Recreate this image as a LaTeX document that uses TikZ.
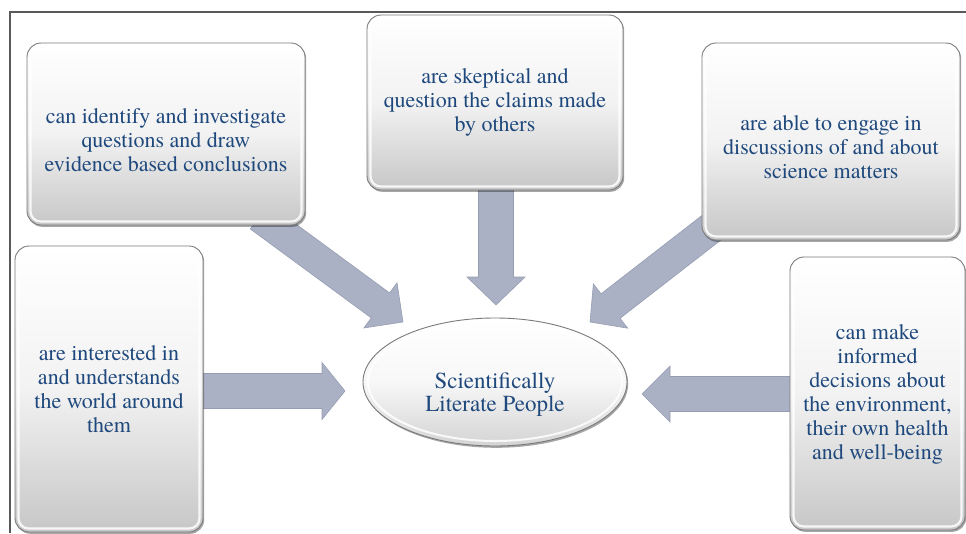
\documentclass[tikz,border=0pt]{standalone}
\usepackage{fontspec}
\newfontfamily\cardfont{texgyretermes-regular.otf}
\usetikzlibrary{calc,shadows,shapes.geometric,backgrounds}
\definecolor{txtblue}{RGB}{31,73,125}
\definecolor{arrfill}{RGB}{170,177,196}
\definecolor{arrline}{RGB}{150,157,178}
\tikzset{
  card/.style={rectangle, rounded corners=14pt, draw=black!52, line width=0.9pt,
    top color=white, bottom color=black!22, middle color=black!5,
    drop shadow={shadow xshift=1.2pt, shadow yshift=-1.8pt, opacity=0.35, fill=black},
    inner sep=0pt},
  oval/.style={ellipse, draw=black!52, line width=0.9pt,
    top color=white, bottom color=black!17, middle color=black!3,
    drop shadow={shadow xshift=1.2pt, shadow yshift=-1.8pt, opacity=0.35, fill=black},
    inner sep=0pt},
  cardtext/.style={text=txtblue, font=\cardfont\fontsize{22}{24}\selectfont,
    align=center, inner sep=0pt},
  bevel/.style={draw=white, line width=2.2pt, rounded corners=10pt, opacity=0.85},
  blockarrow/.style={fill=arrfill, draw=arrline, line width=0.6pt, line join=miter},
  frameline/.style={draw=black!65, line width=1.3pt}
}
\newcommand\fatarrow[5]{%
  \coordinate (fa-base) at ($(#2)!#5!(#1)$);
  \filldraw[blockarrow] ($(#1)!#3!90:(#2)$) -- ($(fa-base)!#3!90:(#2)$)
    -- ($(fa-base)!#4!90:(#2)$) -- (#2) -- ($(fa-base)!#4!-90:(#2)$)
    -- ($(fa-base)!#3!-90:(#2)$) -- ($(#1)!#3!-90:(#2)$) -- cycle;}
\begin{document}
\begin{tikzpicture}[x=1pt, y=-1pt]
\useasboundingbox (0,0) rectangle (966,533);
\draw[frameline] (966,12) -- (10,12) -- (10,533);

% boxes
\node[card, minimum width=278pt, minimum height=182pt] (b1) at (166,134) {};
\node[card, minimum width=256pt, minimum height=175pt] (b2) at (495,102.5) {};
\node[card, minimum width=258pt, minimum height=197pt] (b3) at (831,141.5) {};
\node[card, minimum width=188pt, minimum height=286pt] (b4) at (109,389) {};
\node[card, minimum width=175pt, minimum height=273pt] (b5) at (877.5,393.5) {};
\node[oval, minimum width=264pt, minimum height=128pt] (ell) at (495,382) {};

% bevel highlights
\foreach \b in {b1,b2,b3,b4,b5}{
  \draw[bevel] ($(\b.north west)+(4,4)$) rectangle ($(\b.south east)+(-4,-4)$);
}
\draw[draw=white, line width=2pt, opacity=0.85] (ell.center) ellipse [x radius=127pt, y radius=59pt];

% texts
\node[cardtext] (b1t) at ($(b1.center)+(0,6)$)
  {can identify and investigate\\questions and draw\\evidence based conclusions};
\node[cardtext] (b2t) at ($(b2.center)+(0,0)$)
  {are skeptical and\\question the claims made\\by others};
\node[cardtext] (b3t) at ($(b3.center)+(0,6)$)
  {are able to engage in\\discussions of and about\\science matters};
\node[cardtext] (b4t) at ($(b4.center)+(0,0)$)
  {are interested in\\and understands\\the world around\\them};
\node[cardtext] (b5t) at ($(b5.center)+(0,1)$)
  {can make\\informed\\decisions about\\the environment,\\their own health\\and well-being};
\node[cardtext, font=\cardfont\fontsize{23}{23}\selectfont] (ellt) at ($(ell.center)+(0,13)$)
  {Scientifically\\Literate People};

% connector end points
\coordinate (s1) at ($(b1.south east)+(-46,-9)$);
\coordinate (t1) at ($(ell.center)+(-92,-60)$);
\coordinate (s2) at ($(b2.south)+(1,-10)$);
\coordinate (t2) at ($(ell.center)+(1,-77)$);
\coordinate (s3) at ($(b3.south west)+(27,-26)$);
\coordinate (t3) at ($(ell.center)+(95,-60)$);
\coordinate (s4) at ($(b4.east)+(-13,2)$);
\coordinate (t4) at ($(ell.center)+(-150,9)$);
\coordinate (s5) at ($(b5.west)+(10,0.5)$);
\coordinate (t5) at ($(ell.center)+(147,12)$);

\begin{scope}[on background layer]
  \fatarrow{s1}{t1}{15.5pt}{28pt}{28pt}
  \fatarrow{s2}{t2}{17.5pt}{29pt}{28pt}
  \fatarrow{s3}{t3}{15.5pt}{28pt}{26pt}
  \fatarrow{s4}{t4}{17.5pt}{28.5pt}{23pt}
  \fatarrow{s5}{t5}{17.5pt}{28pt}{28pt}
\end{scope}
\end{tikzpicture}
\end{document}
